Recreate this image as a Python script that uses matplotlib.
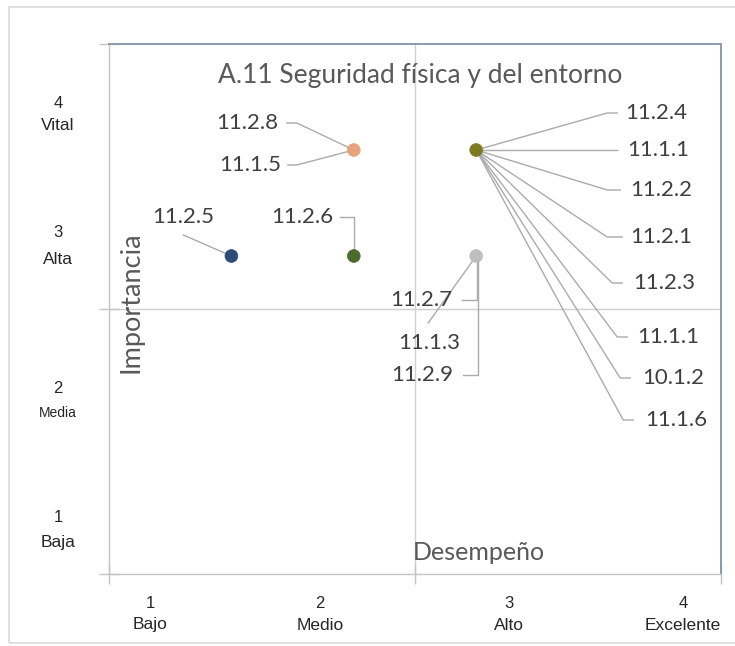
import matplotlib
matplotlib.use("Agg")
import matplotlib.pyplot as plt
from matplotlib.patches import Rectangle
from matplotlib.transforms import IdentityTransform

# ---- data -------------------------------------------------------------
desempeno = [1, 2, 2, 3, 3]
importancia = [3, 3, 4, 4, 3]
point_colors = ["#2F4B7C", "#4B6B2C", "#E8A27E", "#7E7A22", "#BEBEBE"]
point_labels = [
    ["11.2.5"],
    ["11.2.6"],
    ["11.2.8", "11.1.5"],
    ["11.2.4", "11.1.1", "11.2.2", "11.2.1", "11.2.3", "11.1.1", "10.1.2", "11.1.6"],
    ["11.2.7", "11.1.3", "11.2.9"],
]
x_levels = ["1\nBajo", "2\nMedio", "3\nAlto", "4\nExcelente"]
y_levels = ["4\nVital", "3\nAlta", "2\nMedia", "1\nBaja"]
title = "A.11 Seguridad física y del entorno"
x_title = "Desempeño"
y_title = "Importancia"

# ---- label layout: text offset (px, y down), alignment, leader path ----
label_layout = [
    [((-48, -39), "center", [(-48, -21), (0, 0)])],
    [((-52, -39), "center", [(-14, -39), (0, -39), (0, 0)])],
    [((-107, -27), "center", [(-67, -27), (-57, -27), (0, 0)]),
     ((-104, 15), "center", [(-66, 15), (-57, 15), (0, 0)])],
    [((149, -37), "left", [(0, 0), (131, -37), (141, -37)]),
     ((151, 0), "left", [(0, 0), (141, 0)]),
     ((154, 40), "left", [(0, 0), (131, 40), (144, 40)]),
     ((154, 87), "left", [(0, 0), (131, 87), (146, 87)]),
     ((157, 133), "left", [(0, 0), (136, 133), (146, 133)]),
     ((161, 187), "left", [(0, 0), (141, 187), (151, 187)]),
     ((166, 228), "left", [(0, 0), (144, 228), (154, 228)]),
     ((169, 270), "left", [(0, 0), (147, 270), (157, 270)])],
    [((-24, 44), "right", [(-14, 44), (1, 44), (1, 0)]),
     ((-47, 87), "center", [(-48, 67), (0, 0)]),
     ((-23, 119), "right", [(-13, 119), (2, 119), (2, 0)])],
]

W, H, DPI = 735, 646, 100
fig = plt.figure(figsize=(W / DPI, H / DPI), dpi=DPI)
fig.patch.set_facecolor("white")

# outer chart frame
fig.patches.append(Rectangle((9 / W, 3 / H), 1.2, 636 / H, transform=fig.transFigure,
                             fill=False, edgecolor="#d9d9d9", lw=1.2, clip_on=False))

L, R, T, B = 109, 721, 44, 574
ax = fig.add_axes([L / W, 1 - B / H, (R - L) / W, (B - T) / H])
ax.set_xlim(0, 5)
ax.set_ylim(0, 5)
ax.set_facecolor("white")

for side in ("left", "bottom"):
    ax.spines[side].set_color("#c4c4c4")
    ax.spines[side].set_linewidth(1.0)
for side in ("top", "right"):
    ax.spines[side].set_color("#8a9bab")
    ax.spines[side].set_linewidth(1.4)

ax.set_xticks([0, 2.5, 5])
ax.set_yticks([0, 2.5, 5])
ax.tick_params(axis="both", direction="inout", length=14, width=1.0,
               color="#c4c4c4", labelbottom=False, labelleft=False)

# quadrant dividers
ax.axhline(2.5, color="#d0d0d0", lw=1.0, zorder=1)
ax.axvline(2.5, color="#d0d0d0", lw=1.0, zorder=1)

label_font = dict(family="Lato", fontsize=16, color="#404040")

fig.canvas.draw()
for x, y, col, labels, layouts in zip(desempeno, importancia, point_colors,
                                      point_labels, label_layout):
    px, py = ax.transData.transform((x, y))
    for text, (offset, ha, path) in zip(labels, layouts):
        xs = [px + dx for dx, dy in path]
        ys = [py - dy for dx, dy in path]
        ax.add_line(plt.Line2D(xs, ys, transform=IdentityTransform(),
                               color="#ababab", lw=1.0, zorder=2, clip_on=False))
        ax.text(px + offset[0], py - offset[1], text, transform=IdentityTransform(),
                ha=ha, va="center", zorder=4, **label_font)

ax.scatter(desempeno, importancia, s=85, c=point_colors, zorder=5,
           edgecolors=point_colors, linewidths=0.5)

# titles
fig.text(420 / W, 1 - 75 / H, title, family="Lato", fontsize=19,
         color="#595959", ha="center", va="center")
fig.text(479 / W, 1 - 553 / H, x_title, family="Lato", fontsize=18,
         color="#595959", ha="center", va="center")
fig.text(131 / W, 1 - 302 / H, y_title, family="Lato", fontsize=19.5,
         color="#595959", ha="center", va="center", rotation=90)

# level captions
x_pos = [150, 320, 509, 683]
for xp, lab in zip(x_pos, x_levels):
    num, name = lab.split("\n")
    fig.text(xp / W, 1 - 603 / H, num, family="Liberation Sans", fontsize=12,
             color="#262626", ha="center", va="center")
    fig.text(xp / W, 1 - 625 / H, name, family="Liberation Sans", fontsize=12.5,
             color="#262626", ha="center", va="center")

y_pos = [(103, 126), (233, 259), (388, 413), (517, 543)]
for (yn, yl), lab in zip(y_pos, y_levels):
    num, name = lab.split("\n")
    fig.text(58 / W, 1 - yn / H, num, family="Liberation Sans", fontsize=12,
             color="#262626", ha="center", va="center")
    fs = 10 if name == "Media" else 12.5
    fig.text(58 / W, 1 - yl / H, name, family="Liberation Sans", fontsize=fs,
             color="#262626", ha="center", va="center")

fig.savefig("out.png", dpi=DPI)
